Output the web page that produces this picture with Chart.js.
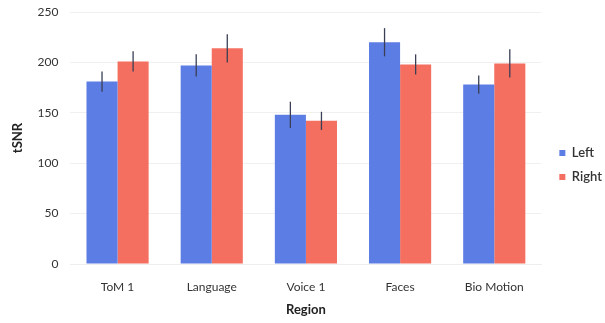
<!DOCTYPE html>
<html>
<head>
<meta charset="utf-8">
<script src="https://cdn.jsdelivr.net/npm/chart.js@4"></script>
<style>
  html, body { margin: 0; padding: 0; background: #fff; }
  #wrap { width: 605px; height: 323px; }
</style>
</head>
<body>
<div id="wrap"><canvas id="chart"></canvas></div>
<script>
const regions = ["ToM 1", "Language", "Voice 1", "Faces", "Bio Motion"];
const leftMeans = [181, 197, 148, 220, 178];
const rightMeans = [201, 214, 142, 198, 199];
const leftErr = [10, 11, 13, 14, 9];
const rightErr = [10, 14, 9, 10, 14];
const yTicks = [0, 50, 100, 150, 200, 250];

// draws the +/- error whiskers on top of each bar
const errorBars = {
  id: "errorBars",
  afterDatasetsDraw(chart) {
    const ctx = chart.ctx;
    const y = chart.scales.y;
    ctx.save();
    ctx.strokeStyle = "#3a3f55";
    ctx.lineWidth = 1.3;
    chart.data.datasets.forEach((ds, i) => {
      const meta = chart.getDatasetMeta(i);
      meta.data.forEach((bar, j) => {
        const v = ds.data[j], e = ds.errors[j];
        ctx.beginPath();
        ctx.moveTo(bar.x, y.getPixelForValue(v + e));
        ctx.lineTo(bar.x, y.getPixelForValue(v - e));
        ctx.stroke();
      });
    });
    ctx.restore();
  }
};

// nudge the legend block a little right and down from where the layout puts it
const legendNudge = {
  id: "legendNudge",
  afterLayout(chart) {
    const lg = chart.legend;
    lg.left += 7; lg.right += 7;
    lg.top += 6; lg.bottom += 6;
  }
};

const font = { family: "Lato, 'Open Sans', sans-serif", size: 12 };

new Chart(document.getElementById("chart"), {
  type: "bar",
  data: {
    labels: regions,
    datasets: [
      { label: "Left", data: leftMeans, errors: leftErr, backgroundColor: "#5c7de3" },
      { label: "Right", data: rightMeans, errors: rightErr, backgroundColor: "#f46f60" }
    ]
  },
  options: {
    responsive: true,
    maintainAspectRatio: false,
    animation: false,
    layout: { padding: { top: 0, right: 0, left: 10, bottom: 5 } },
    datasets: { bar: { categoryPercentage: 0.66, barPercentage: 1.0 } },
    plugins: {
      tooltip: { enabled: false },
      legend: {
        position: "right",
        labels: {
          boxWidth: 6, boxHeight: 6, padding: 11,
          color: "#333", font: { ...font, size: 13, weight: "600" }
        }
      }
    },
    scales: {
      x: {
        grid: { display: false },
        border: { display: true, color: "#eeeeee" },
        ticks: { color: "#333", font: font, padding: 8 },
        title: { display: true, text: "Region", color: "#222",
          font: { ...font, size: 13, weight: "bold" }, padding: { top: 0, bottom: 0 } }
      },
      y: {
        min: 0, max: 250,
        afterBuildTicks(axis) { axis.ticks = yTicks.map(v => ({ value: v })); },
        afterFit(axis) { axis.paddingTop = 12; },
        grid: { color: "#f0f0f0", drawTicks: false },
        border: { display: false },
        ticks: { color: "#333", font: font, padding: 12 },
        title: { display: true, text: "tSNR", color: "#222",
          font: { ...font, size: 13, weight: "bold" }, padding: { top: 0, bottom: 0 } }
      }
    }
  },
  plugins: [errorBars, legendNudge]
});
</script>
</body>
</html>
